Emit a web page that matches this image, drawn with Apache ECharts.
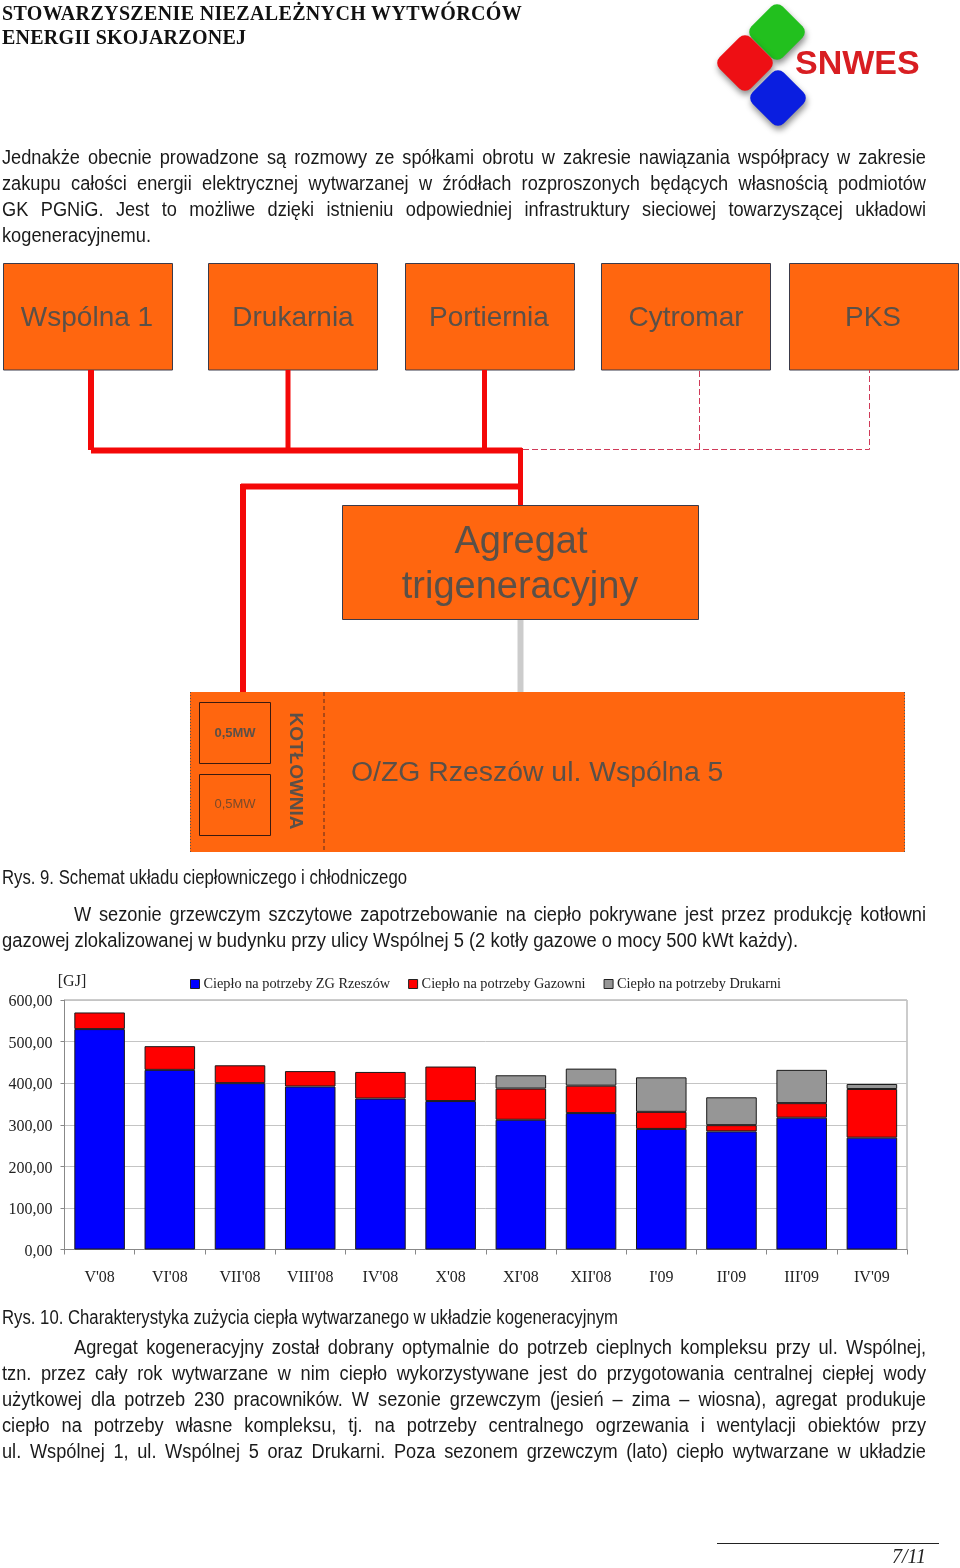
<!DOCTYPE html>
<html><head><meta charset="utf-8">
<script src="https://cdn.jsdelivr.net/npm/echarts@6/dist/echarts.min.js"></script>
<style>
html,body{margin:0;padding:0;background:#fff;width:960px;height:1568px;overflow:hidden}
#chart{position:absolute;left:0;top:0;width:960px;height:1568px}
.l{position:absolute;white-space:nowrap;transform-origin:0 0;text-align:justify;text-align-last:justify;color:#1a1a1a;font-family:"Liberation Sans",sans-serif;font-size:20px;line-height:24px;height:24px}
.h{font-family:"Liberation Serif",serif;font-weight:bold;font-size:20px;color:#111;text-align:left;text-align-last:left}
</style></head><body>
<div id="chart"></div>
<script>
const categories=["V'08","VI'08","VII'08","VIII'08","IV'08","X'08","XI'08","XII'08","I'09","II'09","III'09","IV'09"];
const zgRzeszow=[530,432,400,392,363,357,312,328,290,284,317,269];
const gazownia=[40,57,43,37,64,83,75,66,41,15,35,117];
const drukarnia=[null,null,null,null,null,null,32,41,83,67,80,12];
const seriesNames=["Ciepło na potrzeby ZG Rzeszów","Ciepło na potrzeby Gazowni","Ciepło na potrzeby Drukarni"];
const seriesColors=["#0000ff","#ff0000","#969696"];
const valueTicks={min:0,max:600,interval:100};

const textLines=[
 ["Jednakże obecnie prowadzone są rozmowy ze spółkami obrotu w zakresie nawiązania współpracy w zakresie",2,926,145,1],
 ["zakupu całości energii elektrycznej wytwarzanej w źródłach rozproszonych będących własnością podmiotów",2,926,171,1],
 ["GK PGNiG. Jest to możliwe dzięki istnieniu odpowiedniej infrastruktury sieciowej towarzyszącej układowi",2,926,197,1],
 ["kogeneracyjnemu.",2,151,223,0],
 ["Rys. 9. Schemat układu ciepłowniczego i chłodniczego",2,407,865,0],
 ["W sezonie grzewczym szczytowe zapotrzebowanie na ciepło pokrywane jest przez produkcję kotłowni",74,926,902,1],
 ["gazowej zlokalizowanej w budynku przy ulicy Wspólnej 5 (2 kotły gazowe o mocy 500 kWt każdy).",2,798,928,0],
 ["Rys. 10. Charakterystyka zużycia ciepła wytwarzanego w układzie kogeneracyjnym",2,618,1305,0],
 ["Agregat kogeneracyjny został dobrany optymalnie do potrzeb cieplnych kompleksu przy ul. Wspólnej,",74,926,1335,1],
 ["tzn. przez cały rok wytwarzane w nim ciepło wykorzystywane jest do przygotowania centralnej ciepłej wody",2,926,1361,1],
 ["użytkowej dla potrzeb 230 pracowników. W sezonie grzewczym (jesień – zima – wiosna), agregat produkuje",2,926,1387,1],
 ["ciepło na potrzeby własne kompleksu, tj. na potrzeby centralnego ogrzewania i wentylacji obiektów przy",2,926,1413,1],
 ["ul. Wspólnej 1, ul. Wspólnej 5 oraz Drukarni. Poza sezonem grzewczym (lato) ciepło wytwarzane w układzie",2,926,1439,1]
];
const headerLines=[["STOWARZYSZENIE NIEZALEŻNYCH WYTWÓRCÓW",2,522,1],["ENERGII SKOJARZONEJ",2,246,25]];
const ctx=document.createElement('canvas').getContext('2d');
function measure(t,font){ctx.font=font;return ctx.measureText(t).width;}
const BODY='20px "Liberation Sans"',HEAD='bold 20px "Liberation Serif"',S=0.91;
textLines.forEach(a=>{
  const w=a[2]-a[1],nat=measure(a[0],BODY);
  const fit=w/nat;
  const s=a[4]?Math.min(S,fit*0.998):fit;
  const d=document.createElement('div');d.className='l';d.textContent=a[0];
  d.style.left=a[1]+'px';d.style.top=a[3]+'px';d.style.width=(w/s)+'px';
  d.style.transform='scaleX('+s+')';document.body.appendChild(d);
});
headerLines.forEach(a=>{
  const nat=measure(a[0],HEAD);
  const d=document.createElement('div');d.className='l h';d.textContent=a[0];
  d.style.left=a[1]+'px';d.style.top=a[3]+'px';d.style.width=(a[2]-a[1]+4)+'px';
  d.style.letterSpacing=((a[2]-a[1]-nat)/(a[0].length-1))+'px';document.body.appendChild(d);
});

const O='#ff660f',B='#3a3a4a',T='#5a5048';
const rect=(x,y,w,h,fill,stroke,extra)=>({type:'rect',shape:{x,y,width:w,height:h},style:Object.assign({fill:fill,stroke:stroke,lineWidth:stroke?1:0},extra||{})});
const line=(pts,color,w,dash)=>({type:'polyline',shape:{points:pts},style:{fill:null,stroke:color,lineWidth:w,lineDash:dash||null}});
const txt=(t,x,y,size,extra)=>Object.assign({type:'text',x:x,y:y,style:Object.assign({text:t,fill:T,font:size+'px "Liberation Sans"',align:'center',verticalAlign:'middle'},extra||{})});
const diamond=(x,y,c)=>({type:'rect',x:x,y:y,rotation:Math.PI/4,shape:{x:-22,y:-22,width:44,height:44,r:8},style:{fill:c,shadowBlur:6,shadowColor:'rgba(0,0,0,.45)',shadowOffsetX:1,shadowOffsetY:4}});
const boxNames=[["Wspólna 1",3,87],["Drukarnia",208,293],["Portiernia",405,489],["Cytromar",601,686],["PKS",789,873]];
const g=[];
boxNames.forEach(b=>{g.push(rect(b[1]+.5,263.5,169,106.5,O,B));g.push(txt(b[0],b[2],318,28));});
g.push(line([[91,370],[91,450]],'#f40808',6));
g.push(line([[288,370],[288,450]],'#f40808',5));
g.push(line([[484.5,370],[484.5,450]],'#f40808',5));
g.push(line([[91,450.5],[522,450.5]],'#f40808',6));
g.push(line([[520.5,448],[520.5,511]],'#f40808',5));
g.push(line([[241,486.5],[523,486.5]],'#f40808',6));
g.push(line([[243,484],[243,702]],'#f40808',6));
g.push(line([[523,449.5],[869.5,449.5],[869.5,370]],'#d03a58',1,[6,3]));
g.push(line([[699.5,449],[699.5,370]],'#d03a58',1,[6,3]));
g.push(rect(342.5,505.5,356,114,O,B));
g.push(txt('Agregat',521,543,38));
g.push(txt('trigeneracyjny',520,588,38));
g.push(line([[520.5,620],[520.5,692]],'#cccccc',6));
g.push(rect(190,692,715,160,O,null));
g.push(line([[190.5,692],[190.5,852]],'#555',1,[1,2]));
g.push(line([[904.5,692],[904.5,852]],'#555',1,[1,2]));
g.push(line([[324,692],[324,852]],'#5a2a20',1,[4,3]));
g.push(rect(199.5,702.5,71,61,null,'#3a1a10'));
g.push(rect(199.5,774.5,71,61,null,'#3a1a10'));
g.push(txt('0,5MW',235,733,13,{font:'bold 13px "Liberation Sans"'}));
g.push(txt('0,5MW',235,804,13,{fill:'#7a4a2a'}));
g.push(Object.assign(txt('KOTŁOWNIA',295,771,19,{font:'bold 19px "Liberation Sans"'}),{rotation:-Math.PI/2}));
g.push(txt('O/ZG Rzeszów ul. Wspólna 5',351,773,28.4,{align:'left'}));
g.push(diamond(777,32,'#22c01e'));
g.push(diamond(745,63,'#ee0f14'));
g.push(diamond(778,98,'#0a1ee0'));
g.push(txt('SNWES',795,65,34,{align:'left',fill:'#d81e22',font:'bold 34px "Liberation Sans"',shadowBlur:3,shadowColor:'rgba(0,0,0,.3)',shadowOffsetY:2}));
g.push(line([[717,1543.5],[939,1543.5]],'#222',1));
g.push(txt('7/11',909,1558,20,{font:'italic 20px "Liberation Serif"',fill:'#222'}));

const serif='"Liberation Serif",serif';
const mk=(i,data)=>({name:seriesNames[i],type:'bar',stack:'t',data:data,barCategoryGap:'28%',
  itemStyle:{color:seriesColors[i],borderColor:'#1a1a1a',borderWidth:1},animation:false});
const chart=echarts.init(document.getElementById('chart'));
chart.setOption({
  animation:false,backgroundColor:'#fff',
  grid:{left:64.5,top:1000,width:842.5,height:249.5,show:true,borderColor:'#999',borderWidth:1,backgroundColor:'transparent'},
  legend:{left:185,top:972,itemWidth:9,itemHeight:9,itemGap:18,icon:'rect',
    itemStyle:{borderColor:'#222',borderWidth:1},
    textStyle:{fontFamily:serif,fontSize:14.3,color:'#222',padding:[0,0,0,-1]},data:seriesNames},
  xAxis:{type:'category',data:categories,
    axisLine:{lineStyle:{color:'#888'}},axisTick:{show:true,length:5,lineStyle:{color:'#888'}},
    axisLabel:{margin:20,fontFamily:serif,fontSize:16,color:'#222'}},
  yAxis:{type:'value',min:valueTicks.min,max:valueTicks.max,interval:valueTicks.interval,
    name:'[GJ]',nameLocation:'end',nameGap:10,nameTextStyle:{fontFamily:serif,fontSize:16,color:'#222',align:'center',padding:[0,0,0,15]},
    axisLine:{show:true,lineStyle:{color:'#888'}},axisTick:{show:true,length:4,lineStyle:{color:'#888'}},
    splitLine:{lineStyle:{color:'#c4c4c4'}},
    axisLabel:{margin:12,formatter:v=>'{a|'+v.toFixed(2).replace('.',',')+'}',
      rich:{a:{fontFamily:serif,fontSize:16,color:'#222',padding:[4,0,0,0]}}}},
  series:[mk(0,zgRzeszow),mk(1,gazownia),mk(2,drukarnia)],
  graphic:{elements:g}
});
</script>
</body></html>
